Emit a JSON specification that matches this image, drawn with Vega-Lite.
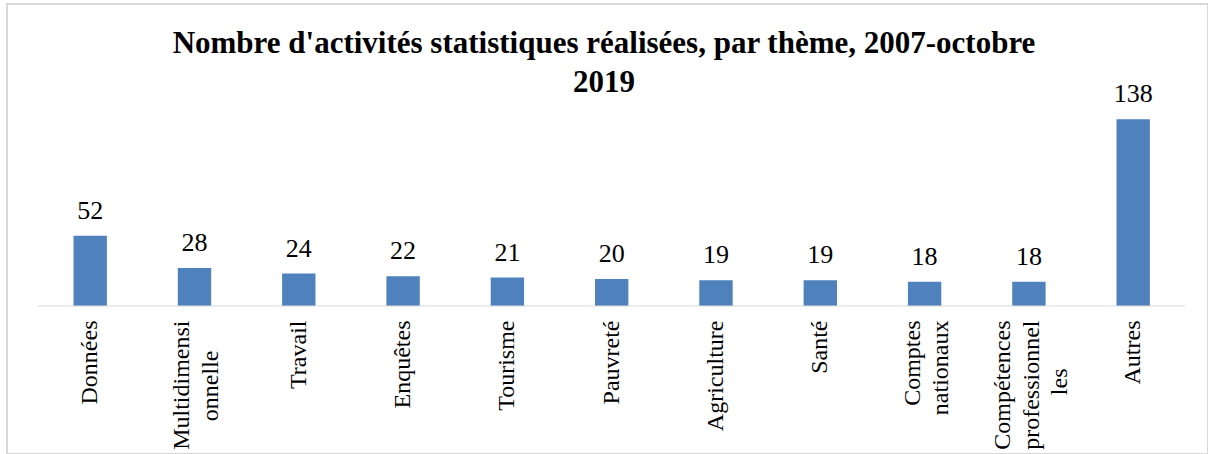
{
  "$schema": "https://vega.github.io/schema/vega-lite/v6.json",
  "width": 1201,
  "height": 450,
  "autosize": {"type": "none"},
  "padding": {"left": 7, "top": 4, "right": 0, "bottom": 0},
  "background": "white",
  "title": {
    "text": ["Nombre d'activités statistiques réalisées, par thème, 2007-octobre", "2019"],
    "font": "Liberation Serif",
    "fontSize": 31,
    "fontWeight": "bold",
    "color": "#000000",
    "anchor": "middle",
    "frame": "group",
    "lineHeight": 39,
    "dx": -3.5,
    "dy": 95,
    "offset": 0
  },
  "data": {
    "values": [
      {"theme": "Données", "n": 52},
      {"theme": "Multidimensionnelle", "n": 28},
      {"theme": "Travail", "n": 24},
      {"theme": "Enquêtes", "n": 22},
      {"theme": "Tourisme", "n": 21},
      {"theme": "Pauvreté", "n": 20},
      {"theme": "Agriculture", "n": 19},
      {"theme": "Santé", "n": 19},
      {"theme": "Comptes nationaux", "n": 18},
      {"theme": "Compétences professionnelles", "n": 18},
      {"theme": "Autres", "n": 138}
    ]
  },
  "layer": [
    {
      "mark": {"type": "bar", "color": "#4F81BD"},
      "encoding": {
        "x": {
          "field": "theme",
          "type": "nominal",
          "sort": null,
          "scale": {"paddingInner": 0.68, "paddingOuter": 0.5974, "align": 0.5337},
          "axis": {
            "title": null,
            "orient": "bottom",
            "offset": -148,
            "domain": false,
            "labelAngle": -90,
            "labelAlign": "right",
            "labelBaseline": "middle",
            "labelFont": "Liberation Serif",
            "labelFontSize": 24,
            "labelColor": "#000000",
            "labelLineHeight": 28.5,
            "labelPadding": 14,
            "labelOffset": {
              "condition": [
                {"test": "datum.value == 'Compétences professionnelles'", "value": -25.5},
                {"test": "datum.value == 'Multidimensionnelle' || datum.value == 'Comptes nationaux'", "value": -12}
              ],
              "value": 0
            },
            "ticks": false,
            "grid": false,
            "labelLimit": 0,
            "labelExpr": "datum.value == 'Multidimensionnelle' ? ['Multidimensi', 'onnelle\u2002\u2002\u00a0\u200b'] : datum.value == 'Comptes nationaux' ? ['Comptes', 'nationaux'] : datum.value == 'Compétences professionnelles' ? ['Compétences', 'professionnel', 'les\u2002\u2002\u2002\u2002\u200b'] : datum.value"
          }
        },
        "y": {
          "field": "n",
          "type": "quantitative",
          "scale": {"domain": [-109.39, 223.21], "nice": false, "zero": false},
          "axis": null
        }
      }
    },
    {
      "mark": {"type": "text", "baseline": "alphabetic", "dy": -17, "font": "Liberation Serif", "fontSize": 26, "color": "#000000"},
      "encoding": {
        "x": {"field": "theme", "type": "nominal", "sort": null},
        "y": {"field": "n", "type": "quantitative"},
        "text": {"field": "n", "type": "quantitative"}
      }
    },
    {
      "data": {"values": [{"base": 0}]},
      "mark": {"type": "rule", "color": "#d9d9d9", "strokeWidth": 1},
      "encoding": {
        "x": {"datum": "Données", "bandPosition": -1.063},
        "x2": {"datum": "Autres", "bandPosition": 2.05},
        "y": {"field": "base", "type": "quantitative"}
      }
    }
  ],
  "config": {"view": {"stroke": "#d9d9d9", "strokeWidth": 2}}
}
